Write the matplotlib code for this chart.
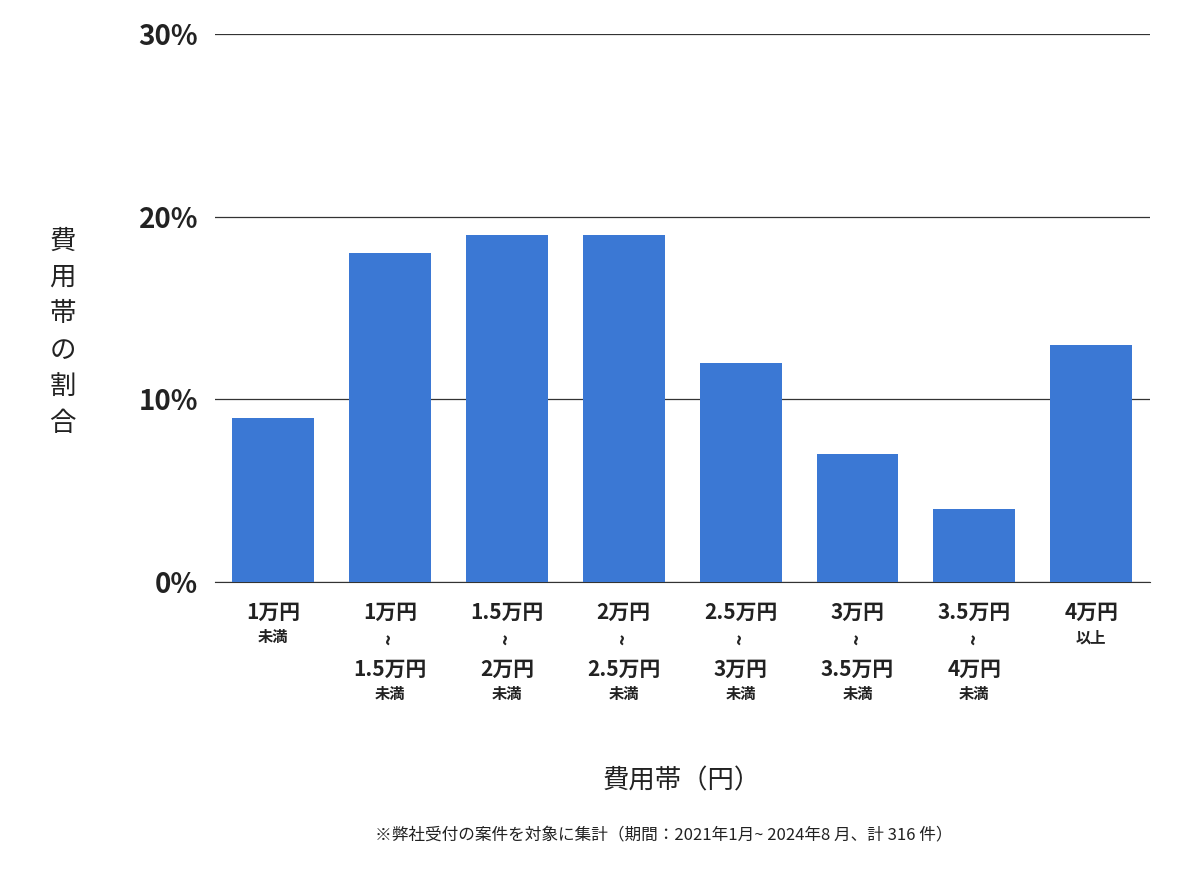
import matplotlib.pyplot as plt

plt.rcParams['font.family'] = ['Noto Sans CJK JP', 'DejaVu Sans']

lower = ['1', '1', '1.5', '2', '2.5', '3', '3.5', '4']
upper = [None, '1.5', '2', '2.5', '3', '3.5', '4', None]
kind = ['under', 'range', 'range', 'range', 'range', 'range', 'range', 'over']
values = [9, 18, 19, 19, 12, 7, 4, 13]
yticks = [0, 10, 20, 30]

fig = plt.figure(figsize=(12, 8.74), dpi=100)
ax = fig.add_axes([0.179, 0.334, 0.779, 0.627])
x = range(len(values))
ax.bar(x, values, width=0.7, color='#3b78d4', zorder=3)
ax.set_ylim(0, 30)
ax.set_xlim(-0.5, len(values) - 0.5)
ax.set_yticks(yticks)
ax.set_yticklabels([f'{t}%' for t in yticks], fontsize=20, fontweight='bold', color='#222222')
ax.yaxis.grid(True, color='#333333', linewidth=0.9, zorder=0)
for s in ['left', 'right', 'top']:
    ax.spines[s].set_visible(False)
ax.spines['bottom'].set_color('#333333')
ax.tick_params(axis='y', length=0, pad=12)
ax.tick_params(axis='x', length=0, labelbottom=False)


def lab(xi, dy_px, text, size, rot=0):
    ax.annotate(text, xy=(xi, 0), xycoords=('data', 'axes fraction'),
                xytext=(0, -dy_px * 0.72), textcoords='offset points',
                ha='center', va='center', fontsize=size, fontweight='bold',
                color='#222222', rotation=rot)


for i in x:
    lab(i, 30, lower[i] + '万円', 15)
    if kind[i] == 'under':
        lab(i, 55, '未満', 11)
    elif kind[i] == 'over':
        lab(i, 55, '以上', 11)
    else:
        lab(i, 57, '~', 14, rot=90)
        lab(i, 87, upper[i] + '万円', 15)
        lab(i, 112, '未満', 11)

fig.text(0.052, 0.62, '\n'.join('費用帯の割合'), ha='center', va='center',
         fontsize=19, color='#222222', linespacing=1.45)
fig.text(0.568, 0.107, '費用帯（円）', ha='center', va='center', fontsize=19, color='#222222')
fig.text(0.553, 0.045, '※弊社受付の案件を対象に集計（期間：2021年1月~ 2024年8 月、計 316 件）',
         ha='center', va='center', fontsize=12, color='#222222')

fig.savefig('out.png', dpi=100, facecolor='white')
